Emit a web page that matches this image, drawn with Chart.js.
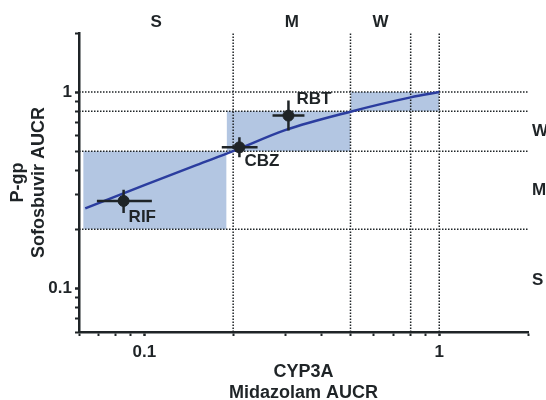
<!DOCTYPE html>
<html>
<head>
<meta charset="utf-8">
<script src="https://cdn.jsdelivr.net/npm/chart.js@4"></script>
<style>
  html, body { margin: 0; padding: 0; background: #fff; }
  #wrap { width: 546px; height: 400px; }
</style>
</head>
<body>
<div id="wrap"><canvas id="chart"></canvas></div>
<script>
// Axis limits and ticks (log-log)
const axisMin = 0.06;
const axisMax = 2;
const xTicks = [0.06, 0.07, 0.08, 0.09, 0.1, 0.2, 0.3, 0.4, 0.5, 0.6, 0.7, 0.8, 0.9, 1, 2];
const yTicks = [0.06, 0.07, 0.08, 0.09, 0.1, 0.2, 0.3, 0.4, 0.5, 0.6, 0.7, 0.8, 0.9, 1, 2];
const labelledTicks = [0.1, 1];

// Dotted cut-off lines
const xCutoffs = [0.2, 0.5, 0.8, 1];
const yCutoffs = [0.2, 0.5, 0.8, 1];

// Interaction bands (strong / moderate / weak)
const bandNames = ['S', 'M', 'W'];
const bandLow = [0.06, 0.2, 0.5];
const bandHigh = [0.2, 0.5, 0.8];

// Shaded boxes
const boxX0 = [0.062, 0.19, 0.5];
const boxX1 = [0.19, 0.5, 1];
const boxY0 = [0.2, 0.5, 0.8];
const boxY1 = [0.5, 0.8, 1];

// Predicted relationship
const curveX = [0.063, 0.1, 0.15, 0.2, 0.3, 0.5, 0.8, 1];
const curveY = [0.256, 0.336, 0.425, 0.5, 0.64, 0.795, 0.94, 1];

// Observed inducers
const drugNames = ['RIF', 'CBZ', 'RBT'];
const drugX = [0.085, 0.21, 0.308];
const drugXLow = [0.069, 0.183, 0.272];
const drugXHigh = [0.106, 0.242, 0.349];
const drugY = [0.279, 0.523, 0.759];
const drugYLow = [0.242, 0.466, 0.637];
const drugYHigh = [0.318, 0.589, 0.906];

const ink = '#1f2427';
const shade = '#b3c6e2';
const curveColor = '#2b3d9f';
const fontFamily = "'Liberation Sans', Arial, Helvetica, sans-serif";

Chart.defaults.font.family = fontFamily;
Chart.defaults.color = ink;

// label offsets from each marker, in pixels
const drugLabelOffset = {
    RIF: [5, 16],
    CBZ: [5, 14],
    RBT: [8, -16]
};

// build line data with gaps between segments
function segments(pairs) {
    const out = [];
    pairs.forEach(p => {
        out.push({ x: p[0], y: p[1] }, { x: p[2], y: p[3] }, { x: p[2], y: null });
    });
    return out;
}

const boxDatasets = boxX0.map((x0, i) => ({
    type: 'line',
    data: [{ x: x0, y: boxY1[i] }, { x: boxX1[i], y: boxY1[i] }],
    fill: { value: boxY0[i] },
    backgroundColor: shade,
    borderWidth: 0,
    pointRadius: 0,
    order: 5
}));

const cutoffLines = {
    type: 'line',
    data: segments(
        xCutoffs.map(v => [v, axisMin, v, axisMax])
            .concat(yCutoffs.map(v => [axisMin, v, axisMax, v]))
    ),
    borderColor: ink,
    borderWidth: 1.5,
    borderDash: [1.5, 1.5],
    pointRadius: 0,
    fill: false,
    spanGaps: false,
    order: 4
};

const curve = {
    type: 'line',
    data: curveX.map((x, i) => ({ x: x, y: curveY[i] })),
    borderColor: curveColor,
    borderWidth: 2.5,
    pointRadius: 0,
    fill: false,
    cubicInterpolationMode: 'monotone',
    order: 3
};

const errorBars = {
    type: 'line',
    data: segments(
        drugX.map((x, i) => [drugXLow[i], drugY[i], drugXHigh[i], drugY[i]])
            .concat(drugX.map((x, i) => [x, drugYLow[i], x, drugYHigh[i]]))
    ),
    borderColor: ink,
    borderWidth: 2.5,
    pointRadius: 0,
    fill: false,
    spanGaps: false,
    order: 2
};

const markers = {
    type: 'scatter',
    data: drugX.map((x, i) => ({ x: x, y: drugY[i] })),
    backgroundColor: ink,
    borderColor: ink,
    pointRadius: 5.5,
    order: 1
};

// drug names and S/M/W band captions
const textPlugin = {
    id: 'textPlugin',
    afterDatasetsDraw(chart) {
        const { ctx, chartArea, scales } = chart;
        ctx.save();
        ctx.fillStyle = ink;
        ctx.font = 'bold 17px ' + fontFamily;
        ctx.textBaseline = 'middle';

        ctx.textAlign = 'left';
        drugNames.forEach((name, i) => {
            const off = drugLabelOffset[name];
            ctx.fillText(name, scales.x.getPixelForValue(drugX[i]) + off[0], scales.y.getPixelForValue(drugY[i]) + off[1]);
        });

        bandNames.forEach((name, i) => {
            const mid = Math.sqrt(bandLow[i] * bandHigh[i]);
            ctx.textAlign = 'center';
            ctx.fillText(name, scales.x.getPixelForValue(mid), chartArea.top - 11);
            ctx.textAlign = 'left';
            ctx.fillText(name, chartArea.right + 4, scales.y.getPixelForValue(mid));
        });
        ctx.restore();
    }
};

function logAxis(ticks, title, fitSize, tickPad) {
    return {
        type: 'logarithmic',
        min: axisMin,
        max: axisMax,
        afterBuildTicks: scale => {
            scale.ticks = ticks.map(v => ({ value: v }));
        },
        afterFit: fitSize,
        ticks: {
            autoSkip: false,
            maxRotation: 0,
            padding: tickPad,
            font: { size: 17, weight: 'bold' },
            color: ink,
            callback: v => labelledTicks.includes(v) ? String(v) : ''
        },
        grid: {
            drawOnChartArea: false,
            drawTicks: true,
            tickLength: 4,
            tickColor: ink,
            tickWidth: ctx => (ctx.tick && labelledTicks.includes(ctx.tick.value)) ? 2.5 : 2
        },
        border: { display: true, color: ink, width: 2.5 },
        title: title
    };
}

new Chart(document.getElementById('chart'), {
    data: {
        datasets: [markers, errorBars, curve, cutoffLines].concat(boxDatasets)
    },
    options: {
        responsive: true,
        maintainAspectRatio: false,
        animation: false,
        layout: { padding: { top: 33, right: 18, left: 0, bottom: 0 } },
        plugins: {
            legend: { display: false },
            tooltip: { enabled: false }
        },
        scales: {
            x: logAxis(xTicks, {
                display: true,
                text: ['CYP3A', 'Midazolam AUCR'],
                font: { size: 18, weight: 'bold', lineHeight: 1.2 },
                color: ink,
                padding: { top: 0, bottom: -4 }
            }, scale => { scale.height = 68; }, 6),
            y: logAxis(yTicks, {
                display: true,
                text: ['P-gp', 'Sofosbuvir AUCR'],
                font: { size: 18, weight: 'bold', lineHeight: 1.2 },
                color: ink,
                padding: { top: 7, bottom: 0 }
            }, scale => { scale.width = 79; }, 3)
        }
    },
    plugins: [textPlugin]
});
</script>
</body>
</html>
